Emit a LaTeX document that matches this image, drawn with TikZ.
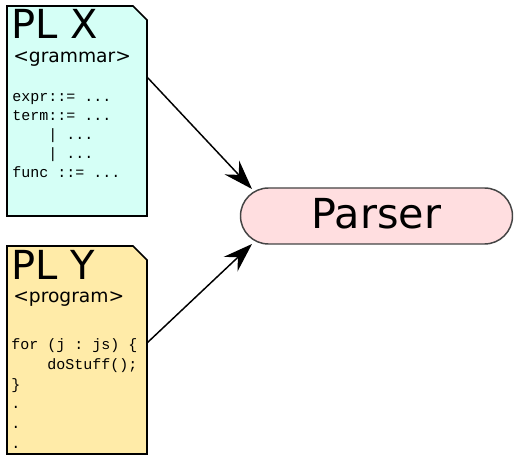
\documentclass[tikz,border=0pt]{standalone}
\usepackage{fontspec}
\setsansfont{DejaVu Sans}
\setmonofont{Liberation Mono}
\usetikzlibrary{arrows.meta}
\definecolor{docxfill}{RGB}{213,255,246}
\definecolor{docyfill}{RGB}{255,235,168}
\definecolor{parserfill}{RGB}{255,222,224}
\definecolor{parserline}{RGB}{68,68,68}
\newcommand{\bigsans}{\sffamily\fontsize{30pt}{36pt}\selectfont}
\newcommand{\midsans}{\sffamily\fontsize{14pt}{17pt}\selectfont}
\newcommand{\codefont}{\ttfamily\fontsize{11.25pt}{14pt}\selectfont}
\tikzset{
  docbox/.style={draw=black, line width=1.2pt, line join=miter},
  doctitle/.style={anchor=base west, inner sep=0pt, font=\bigsans},
  docsub/.style={anchor=base west, inner sep=0pt, font=\midsans},
  doccode/.style={anchor=base west, inner sep=0pt, font=\codefont},
  parserbox/.style={draw=parserline, fill=parserfill, line width=1.1pt, rounded corners=21pt,
    minimum width=204pt, minimum height=42pt, inner sep=0pt,
    text height=22.5pt, text depth=3pt,
    font=\sffamily\fontsize{31pt}{36pt}\selectfont},
  flow/.style={line width=1.1pt, -{Stealth[length=22pt, width=15pt, inset=7.5pt]}}
}
\begin{document}
\begin{tikzpicture}[x=0.75pt, y=-0.75pt]
\useasboundingbox (0,0) rectangle (515,456);
% document X
\draw[docbox, fill=docxfill] (7,6) -- (133,6) -- (147,20) -- (147,216) -- (7,216) -- cycle;
\node[doctitle] (xtitle) at (11,39) {PL X};
\node[docsub] (xsub) at (13,63) {<grammar>};
\node[doccode] (x1) at (12,102) {expr::= ...};
\node[doccode] (x2) at (12,121) {term::= ...};
\node[doccode] (x3) at (12,140) {\ \ \ \ | ...};
\node[doccode] (x4) at (12,159) {\ \ \ \ | ...};
\node[doccode] (x5) at (12,178) {func ::= ...};
% document Y
\draw[docbox, fill=docyfill] (7,246) -- (133,246) -- (147,260) -- (147,454) -- (7,454) -- cycle;
\node[doctitle] (ytitle) at (11,280) {PL Y};
\node[docsub] (ysub) at (13,303) {<program>};
\node[doccode] (y1) at (11,350) {for (j : js) \{};
\node[doccode] (y2) at (11,370) {\ \ \ \ doStuff();};
\node[doccode] (y3) at (11,390) {\}};
\node[doccode] (y4) at (11,409) {.};
\node[doccode] (y5) at (11,429) {.};
\node[doccode] (y6) at (11,449) {.};
% parser
\node[parserbox] (parser) at (376.5,216) {Parser};
% connectors
\coordinate (xout) at (147,77);
\coordinate (yout) at (147,343);
\coordinate (pin1) at (252,189);
\coordinate (pin2) at (252,244);
\draw[flow] (xout) -- (pin1);
\draw[flow] (yout) -- (pin2);
\end{tikzpicture}
\end{document}
